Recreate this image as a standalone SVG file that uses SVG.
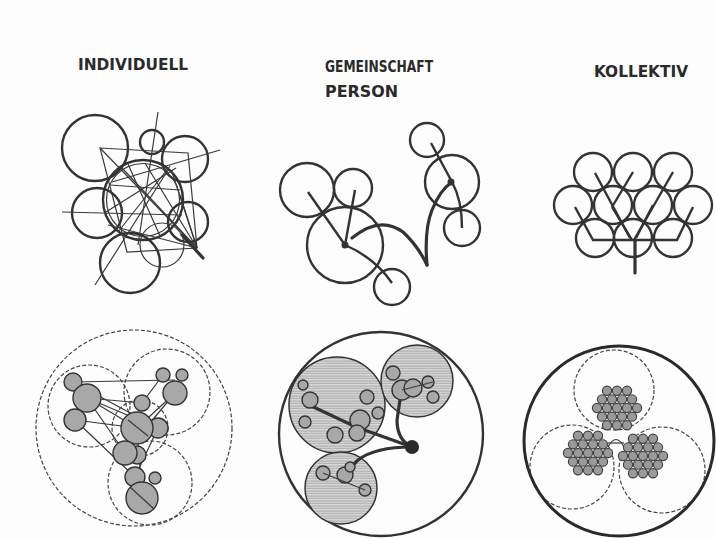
<svg xmlns="http://www.w3.org/2000/svg" width="716" height="538" viewBox="0 0 716 538">
<style>
.lbl{font-family:"DejaVu Sans Condensed","DejaVu Sans",sans-serif;font-weight:bold;font-size:16px;fill:#2a2a2a}
.ln{fill:none;stroke:#3a3a3a;stroke-width:1.2}
.th{fill:none;stroke:#333;stroke-width:2.4}
.thk{fill:none;stroke:#333;stroke-width:3.2;stroke-linecap:round}
.ds{fill:none;stroke:#444;stroke-width:1.2;stroke-dasharray:4 2}
.gc{fill:#a8a8a8;stroke:#333;stroke-width:1.4}
.hc{fill:url(#hatch);stroke:#333;stroke-width:1.5}
.sc{fill:#9a9a9a;stroke:#444;stroke-width:1.2}
</style>
<defs>
<pattern id="hatch" width="4" height="2.5" patternUnits="userSpaceOnUse">
<rect width="4" height="2.5" fill="#dadada"/>
<line x1="0" y1="1" x2="4" y2="1" stroke="#929292" stroke-width="0.8"/>
</pattern>
<g id="hex">
<circle class="sc" cx="-10" cy="-17.3" r="4.6"/><circle class="sc" cx="0" cy="-17.3" r="4.6"/><circle class="sc" cx="10" cy="-17.3" r="4.6"/>
<circle class="sc" cx="-15" cy="-8.66" r="4.6"/><circle class="sc" cx="-5" cy="-8.66" r="4.6"/><circle class="sc" cx="5" cy="-8.66" r="4.6"/><circle class="sc" cx="15" cy="-8.66" r="4.6"/>
<circle class="sc" cx="-20" cy="0" r="4.6"/><circle class="sc" cx="-10" cy="0" r="4.6"/><circle class="sc" cx="0" cy="0" r="4.6"/><circle class="sc" cx="10" cy="0" r="4.6"/><circle class="sc" cx="20" cy="0" r="4.6"/>
<circle class="sc" cx="-15" cy="8.66" r="4.6"/><circle class="sc" cx="-5" cy="8.66" r="4.6"/><circle class="sc" cx="5" cy="8.66" r="4.6"/><circle class="sc" cx="15" cy="8.66" r="4.6"/>
<circle class="sc" cx="-10" cy="17.3" r="4.6"/><circle class="sc" cx="0" cy="17.3" r="4.6"/><circle class="sc" cx="10" cy="17.3" r="4.6"/>
</g>
</defs>
<rect width="716" height="538" fill="#fdfdfd"/>

<g id="labels">
<text class="lbl" x="78" y="70" textLength="110" lengthAdjust="spacingAndGlyphs">INDIVIDUELL</text>
<text class="lbl" x="325" y="72" textLength="108" lengthAdjust="spacingAndGlyphs">GEMEINSCHAFT</text>
<text class="lbl" x="325" y="97" textLength="73" lengthAdjust="spacingAndGlyphs">PERSON</text>
<text class="lbl" x="594" y="77" textLength="94" lengthAdjust="spacingAndGlyphs">KOLLEKTIV</text>
</g>

<g id="individuell-top">
<circle class="th" cx="95" cy="148" r="33"/>
<circle class="th" cx="152" cy="142" r="12"/>
<circle class="th" cx="185" cy="159" r="23"/>
<circle class="th" cx="97" cy="213" r="25"/>
<circle class="th" cx="188" cy="222" r="20"/>
<circle class="th" cx="130" cy="263" r="30"/>
<circle class="ln" cx="162" cy="245" r="22"/>
<circle fill="#fdfdfd" class="th" cx="143" cy="200" r="40"/>
<circle class="ln" cx="143" cy="200" r="36.5"/>
<path class="ln" d="M100 148 L188 153 L197 248 L127 252 Z"/>
<line class="ln" x1="158" y1="112" x2="138" y2="245"/>
<line class="ln" x1="220" y1="150" x2="112" y2="182"/>
<line class="ln" x1="62" y1="212" x2="182" y2="215"/>
<line class="ln" x1="95" y1="285" x2="168" y2="170"/>
<line class="ln" x1="100" y1="148" x2="197" y2="248"/>
<line class="ln" x1="122" y1="168" x2="197" y2="248"/>
<line class="ln" x1="145" y1="163" x2="197" y2="248"/>
<line class="ln" x1="172" y1="172" x2="197" y2="248"/>
<line class="ln" x1="180" y1="195" x2="197" y2="248"/>
<line class="ln" x1="108" y1="225" x2="197" y2="248"/>
<line class="ln" x1="106" y1="212" x2="176" y2="168"/>
<line class="ln" x1="118" y1="232" x2="170" y2="166"/>
<line class="ln" x1="110" y1="185" x2="180" y2="190"/>
<line class="ln" x1="128" y1="164" x2="160" y2="236"/>
<line class="thk" x1="182" y1="235" x2="203" y2="258"/>
</g>

<g id="gemeinschaft-top">
<circle class="th" cx="345" cy="245" r="38"/>
<circle class="th" cx="307" cy="190" r="27"/>
<circle class="th" cx="353" cy="188" r="19"/>
<circle class="th" cx="392" cy="287" r="18"/>
<circle class="th" cx="427" cy="140" r="17"/>
<circle class="th" cx="452" cy="182" r="27"/>
<circle class="th" cx="462" cy="228" r="18"/>
<line class="th" x1="345" y1="245" x2="308" y2="192"/>
<line class="th" x1="345" y1="245" x2="355" y2="190"/>
<path class="th" d="M345 245 Q375 258 392 283"/>
<path class="thk" d="M352 238 Q380 215 403 232 Q418 246 427 265"/>
<path class="thk" d="M427 265 Q424 230 432 210 Q440 190 452 182"/>
<line class="th" x1="452" y1="182" x2="431" y2="143"/>
<path class="th" d="M452 182 Q462 200 462 228"/>
<circle fill="#333" cx="345" cy="245" r="3.5"/>
<circle fill="#333" cx="451" cy="182" r="3.5"/>
</g>

<g id="kollektiv-top">
<circle class="th" cx="593" cy="172" r="19"/>
<circle class="th" cx="633" cy="172" r="19"/>
<circle class="th" cx="673" cy="172" r="19"/>
<circle class="th" cx="573" cy="205" r="19"/>
<circle class="th" cx="613" cy="205" r="19"/>
<circle class="th" cx="653" cy="205" r="19"/>
<circle class="th" cx="693" cy="205" r="19"/>
<circle class="th" cx="595" cy="238" r="19"/>
<circle class="th" cx="633" cy="238" r="19"/>
<circle class="th" cx="673" cy="238" r="19"/>
<path class="th" d="M575 207 L593 240 L677 240 L693 207"/>
<line class="th" x1="595" y1="173" x2="630" y2="238"/>
<line class="th" x1="633" y1="172" x2="612" y2="207"/>
<line class="th" x1="612" y1="207" x2="632" y2="240"/>
<line class="th" x1="673" y1="172" x2="634" y2="240"/>
<line class="th" x1="653" y1="205" x2="636" y2="238"/>
<line class="thk" x1="635" y1="240" x2="635" y2="273"/>
</g>

<g id="individuell-bottom">
<circle class="ds" cx="134" cy="428" r="98"/>
<circle class="ds" cx="89" cy="406" r="41"/>
<circle class="ds" cx="167" cy="392" r="43"/>
<circle class="ds" cx="150" cy="483" r="42"/>
<circle class="ds" cx="140" cy="428" r="28"/>
<line class="ln" x1="73" y1="382" x2="175" y2="380"/>
<line class="ln" x1="87" y1="398" x2="142" y2="403"/>
<line class="ln" x1="87" y1="398" x2="137" y2="428"/>
<line class="ln" x1="75" y1="420" x2="137" y2="428"/>
<line class="ln" x1="87" y1="398" x2="125" y2="453"/>
<line class="ln" x1="75" y1="420" x2="135" y2="477"/>
<line class="ln" x1="73" y1="382" x2="158" y2="428"/>
<line class="ln" x1="175" y1="393" x2="137" y2="428"/>
<line class="ln" x1="175" y1="393" x2="125" y2="453"/>
<line class="ln" x1="163" y1="375" x2="142" y2="403"/>
<line class="ln" x1="137" y1="428" x2="142" y2="498"/>
<line class="ln" x1="158" y1="428" x2="135" y2="477"/>
<line class="ln" x1="87" y1="398" x2="158" y2="428"/>
<circle class="gc" cx="73" cy="382" r="9"/>
<circle class="gc" cx="87" cy="398" r="14"/>
<circle class="gc" cx="75" cy="420" r="11"/>
<circle class="gc" cx="163" cy="375" r="7"/>
<circle class="gc" cx="182" cy="375" r="6"/>
<circle class="gc" cx="175" cy="393" r="12"/>
<circle class="gc" cx="142" cy="403" r="8"/>
<circle class="gc" cx="158" cy="428" r="10"/>
<circle class="gc" cx="137" cy="428" r="16"/>
<circle class="gc" cx="137" cy="455" r="9"/>
<circle class="gc" cx="125" cy="453" r="12"/>
<circle class="gc" cx="135" cy="477" r="10"/>
<circle class="gc" cx="155" cy="478" r="6"/>
<circle class="gc" cx="142" cy="498" r="16"/>
<line class="ln" x1="128" y1="420" x2="148" y2="436"/>
<line class="ln" x1="130" y1="487" x2="154" y2="509"/>
</g>

<g id="gemeinschaft-bottom">
<circle class="th" cx="381" cy="434" r="102"/>
<circle class="hc" cx="337" cy="405" r="48"/>
<circle class="hc" cx="417" cy="381" r="36"/>
<circle class="hc" cx="341" cy="488" r="36"/>
<path class="thk" d="M412 447 L356 427 L305 403"/>
<path class="thk" d="M412 447 Q397 440 397 420 L400 400"/>
<path class="thk" d="M412 447 Q375 447 358 460 L348 470"/>
<circle class="gc" cx="303" cy="385" r="5"/>
<circle class="gc" cx="310" cy="400" r="8"/>
<circle class="gc" cx="305" cy="422" r="6"/>
<circle class="gc" cx="367" cy="397" r="7"/>
<circle class="gc" cx="378" cy="413" r="6"/>
<circle class="gc" cx="360" cy="420" r="10"/>
<circle class="gc" cx="357" cy="433" r="8"/>
<circle class="gc" cx="335" cy="435" r="8"/>
<circle class="gc" cx="393" cy="373" r="7"/>
<circle class="gc" cx="402" cy="390" r="10"/>
<circle class="gc" cx="413" cy="388" r="9"/>
<circle class="gc" cx="428" cy="382" r="6"/>
<circle class="gc" cx="433" cy="397" r="6"/>
<circle class="gc" cx="323" cy="473" r="7"/>
<circle class="gc" cx="345" cy="475" r="8"/>
<circle class="gc" cx="350" cy="467" r="5"/>
<circle class="gc" cx="365" cy="490" r="6"/>
<line class="ln" x1="323" y1="473" x2="365" y2="490"/>
<line class="ln" x1="402" y1="390" x2="433" y2="382"/>
<circle fill="#2a2a2a" cx="412" cy="447" r="7"/>
</g>

<g id="kollektiv-bottom">
<circle class="ds" cx="614" cy="390" r="40"/>
<circle class="ds" cx="572" cy="467" r="42"/>
<circle class="ds" cx="662" cy="470" r="43"/>
<circle fill="none" stroke="#2a2a2a" stroke-width="3" cx="619" cy="441" r="95"/>
<path class="ln" d="M608 447 Q616 432 624 447"/>
<line class="ln" x1="608" y1="443" x2="624" y2="443"/>
<use href="#hex" x="617" y="408"/>
<use href="#hex" x="588" y="453"/>
<use href="#hex" x="643" y="456"/>
</g>
</svg>
